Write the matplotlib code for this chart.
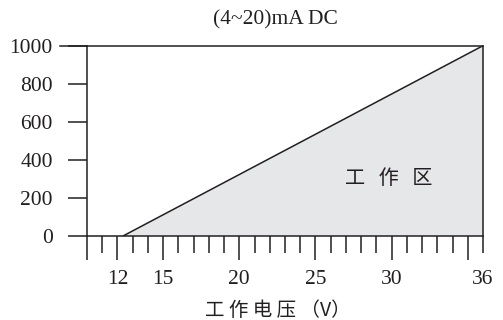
import matplotlib
matplotlib.use("Agg")
import matplotlib.pyplot as plt
from matplotlib.lines import Line2D

# Data
voltage = [12.4, 36, 36]
load = [0, 1000, 0]
y_ticks = [0, 200, 400, 600, 800, 1000]
x_long_ticks = [10, 12, 15, 20, 25, 30, 35]
x_long_labels = ["", "12", "15", "20", "25", "30", ""]
x_short_ticks = [11, 13, 14, 16, 17, 18, 19, 21, 22, 23, 24, 26, 27, 28, 29, 31, 32, 33, 34, 36]
x_short_labels = [""] * 19 + ["36"]
title = "(4~20)mA DC"
xlabel = "工 作 电 压 （V）"
region_label = "工   作   区"

ink = "#231f20"
serif = "Liberation Serif"
cjk = ["Noto Sans CJK SC", "DejaVu Sans"]

fig = plt.figure(figsize=(5.03, 3.2), dpi=100)
ax = fig.add_axes([87 / 503, 1 - 235.7 / 320, 396 / 503, 190 / 320])

ax.fill(voltage, load, facecolor="#e6e7e8", edgecolor="none")
ax.plot(voltage[:2], load[:2], color=ink, lw=1.1)

ax.set_xlim(10, 36)
ax.set_ylim(0, 1000)

for s in ax.spines.values():
    s.set_color(ink)
    s.set_linewidth(1.1)

ax.set_yticks(y_ticks)
ax.set_yticklabels([str(v) for v in y_ticks], fontfamily=serif, fontsize=15.5)
ax.tick_params(axis="y", direction="out", length=13.7, width=1.1, color=ink, pad=11, labelcolor=ink)

ax.set_xticks(x_long_ticks)
ax.set_xticklabels(x_long_labels, fontfamily=serif, fontsize=15.5)
ax.set_xticks(x_short_ticks, minor=True)
ax.set_xticklabels(x_short_labels, minor=True, fontfamily=serif, fontsize=15.5)
ax.tick_params(axis="x", which="major", direction="out", length=17.3, width=1.1, color=ink, pad=7.5, labelcolor=ink)
ax.tick_params(axis="x", which="minor", direction="out", length=12.2, width=1.1, color=ink, pad=12.6, labelcolor=ink)

# extended top line to the left of the axis
ax.add_line(Line2D([-27 / 396, 0], [1, 1], transform=ax.transAxes, color=ink, lw=1.1, clip_on=False))

fig.text(275 / 503, 1 - 20 / 320, title, ha="center", va="center", fontfamily=serif, fontsize=15.5, color=ink)
fig.text(278 / 503, 1 - 310 / 320, xlabel, ha="center", va="center", fontfamily=cjk, fontsize=14, color=ink)
ax.text(389 / 503, 1 - 178 / 320, region_label, transform=fig.transFigure, ha="center", va="center",
        fontfamily=cjk, fontsize=14.5, color=ink, fontweight="light")

fig.savefig("out.png", dpi=100)
